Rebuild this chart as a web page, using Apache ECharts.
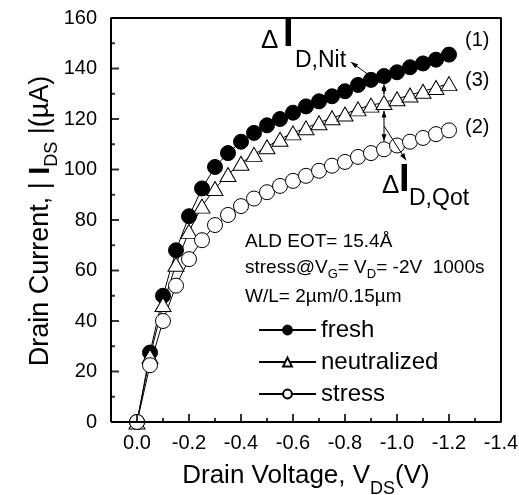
<!DOCTYPE html>
<html>
<head>
<meta charset="utf-8">
<script src="https://cdn.jsdelivr.net/npm/echarts@6/dist/echarts.min.js"></script>
<style>
html, body { margin: 0; padding: 0; background: #fff; }
#chart { width: 519px; height: 495px; }
</style>
</head>
<body>
<div id="chart"></div>
<script>
// Drain voltage (V), one point every -0.05 V
var volts = [0, -0.05, -0.1, -0.15, -0.2, -0.25, -0.3, -0.35, -0.4, -0.45, -0.5, -0.55, -0.6,
             -0.65, -0.7, -0.75, -0.8, -0.85, -0.9, -0.95, -1.0, -1.05, -1.1, -1.15, -1.2];

// |I_DS| (uA)
var fresh = [0, 27.5, 50, 68, 81.5, 92.5, 101, 106.5, 111, 114.5, 117.5, 120, 122.5,
             125, 127, 129, 131, 133.5, 135.5, 137, 138.5, 140.5, 142, 143.5, 145.5];
var neutralized = [0, 26, 46.5, 62.5, 75.5, 85.5, 92.5, 98, 102.5, 106, 109, 112, 114.5,
                   116.5, 118.5, 120.5, 122, 124, 125.5, 126.5, 128, 129.5, 131, 132.5, 134];
var stress = [0, 22.5, 40, 54, 64.5, 72, 78, 82, 85.5, 88.5, 91, 93.5, 95.5,
              97.5, 99.5, 101.5, 103, 105, 106.5, 108, 109.5, 111, 112.5, 114, 115.5];

// inner ticks (labels come from the axes, every 0.2 V / 20 uA)
var xTickValues = [0, -0.1, -0.2, -0.3, -0.4, -0.5, -0.6, -0.7, -0.8, -0.9, -1.0, -1.1, -1.2, -1.3];
var yTickValues = [10, 20, 30, 40, 50, 60, 70, 80, 90, 100, 110, 120, 130, 140, 150];

// plot window
var xRange = [-1.4, 0.1];
var yRange = [0, 160];

var seriesNames = ['fresh', 'neutralized', 'stress'];
var curveLabels = ['(1)', '(3)', '(2)'];
var infoLines = ['ALD EOT= 15.4Å', 'stress@V{s|G}= V{s|D}= -2V  1000s', 'W/L= 2µm/0.15µm'];

var FONT = "'Liberation Sans', Arial, Helvetica, sans-serif";

var chartDom = document.getElementById('chart');
var chart = echarts.init(chartDom);

function pairs(ys) {
    return volts.map(function (v, i) { return [v, ys[i]]; });
}

// frame drawn as a closed line through the corners of the axis window
var frameData = [[xRange[1], yRange[0]], [xRange[1], yRange[1]], [xRange[0], yRange[1]],
                 [xRange[0], yRange[0]], [xRange[1], yRange[0]]];

// inward ticks as thin rect symbols: long at labelled values, short in between
var tickData = [];
xTickValues.forEach(function (v) {
    var len = Math.round(v * 10) % 2 === 0 ? 8 : 4;
    tickData.push({ value: [v, yRange[0]], symbolSize: [2, len], symbolOffset: [0, -len / 2] });
});
yTickValues.forEach(function (v) {
    var len = v % 20 === 0 ? 8 : 4;
    tickData.push({ value: [xRange[1], v], symbolSize: [len, 2], symbolOffset: [len / 2, 0] });
});

var option = {
    animation: false,
    textStyle: { fontFamily: FONT, color: '#000' },
    grid: { left: 111, right: 18, top: 18, bottom: 73, outerBoundsMode: 'none' },
    legend: {
        orient: 'vertical',
        left: 253, top: 313,
        itemWidth: 57, itemHeight: 11, itemGap: 8,
        textStyle: { fontSize: 24, color: '#000', fontFamily: FONT },
        data: seriesNames
    },
    xAxis: {
        type: 'value',
        min: xRange[0], max: xRange[1], interval: 0.2, inverse: true,
        axisLine: { show: false, onZero: false },
        axisTick: { show: false },
        splitLine: { show: false },
        axisLabel: {
            fontSize: 20, color: '#000', margin: 11, fontFamily: FONT,
            formatter: function (v) {
                if (v > 0.05) return '';
                if (Math.abs(v) < 1e-9) return '0.0';
                return v.toFixed(1);
            }
        },
        name: 'Drain Voltage, V{s|DS}(V)',
        nameLocation: 'middle', nameGap: 32,
        nameTextStyle: {
            fontSize: 26, color: '#000', fontFamily: FONT,
            rich: { s: { fontSize: 18, padding: [26, 0, 0, 0], fontFamily: FONT } }
        }
    },
    yAxis: {
        type: 'value', min: yRange[0], max: yRange[1], interval: 20,
        axisLine: { show: false, onZero: false },
        axisTick: { show: false },
        splitLine: { show: false },
        axisLabel: { fontSize: 20, color: '#000', margin: 14, fontFamily: FONT }
    },
    series: [{
        name: seriesNames[0], type: 'line',
        data: pairs(fresh),
        symbol: 'circle', symbolSize: 15,
        itemStyle: { color: '#000', borderColor: '#000', borderWidth: 1 },
        lineStyle: { color: '#000', width: 1 }
    }, {
        name: seriesNames[1], type: 'line',
        data: pairs(neutralized),
        symbol: 'triangle', symbolSize: [16, 14],
        itemStyle: { color: '#fff', borderColor: '#000', borderWidth: 1 },
        lineStyle: { color: '#000', width: 1 }
    }, {
        name: seriesNames[2], type: 'line',
        data: pairs(stress),
        symbol: 'circle', symbolSize: 15,
        itemStyle: { color: '#fff', borderColor: '#000', borderWidth: 1 },
        lineStyle: { color: '#000', width: 1 }
    }, {
        name: 'frame', type: 'line', data: frameData,
        symbol: 'none', clip: false, silent: true, z: 5,
        lineStyle: { color: '#000', width: 2 }
    }, {
        name: 'ticks', type: 'scatter', data: tickData,
        symbol: 'rect', clip: false, silent: true, z: 5,
        itemStyle: { color: '#000' }
    }]
};

chart.setOption(option);

// annotations -----------------------------------------------------------

function px(v, y) {
    return chart.convertToPixel({ xAxisIndex: 0, yAxisIndex: 0 }, [v, y]);
}

function txt(x, y, text, size, extra) {
    var style = {
        text: text, x: x, y: y,
        fontSize: size, fontFamily: FONT, fill: '#000',
        textAlign: 'left', align: 'left',
        textVerticalAlign: 'middle', verticalAlign: 'middle'
    };
    for (var k in extra) style[k] = extra[k];
    return { type: 'text', silent: true, style: style };
}

function seg(x1, y1, x2, y2) {
    return { type: 'line', silent: true, z: 10,
             shape: { x1: x1, y1: y1, x2: x2, y2: y2 },
             style: { stroke: '#000', lineWidth: 1 } };
}

function head(x1, y1, x2, y2, len, wid) {
    var dx = x2 - x1, dy = y2 - y1, d = Math.sqrt(dx * dx + dy * dy);
    var ux = dx / d, uy = dy / d;
    var bx = x2 - ux * len, by = y2 - uy * len;
    return { type: 'polygon', silent: true, z: 10,
             shape: { points: [[x2, y2], [bx - uy * wid, by + ux * wid], [bx + uy * wid, by - ux * wid]] },
             style: { fill: '#000' } };
}

function arrow(x1, y1, x2, y2, both) {
    var out = [seg(x1, y1, x2, y2), head(x1, y1, x2, y2, 7, 2.5)];
    if (both) out.push(head(x2, y2, x1, y1, 7, 2.5));
    return out;
}

var g = [];

// y title
g.push({ type: 'text', silent: true, x: 41, y: 221, rotation: Math.PI / 2,
         style: { text: 'Drain Current, | {b|I}{s|DS} |(µA)', fontSize: 27, fontFamily: FONT, fill: '#000',
                  textAlign: 'center', align: 'center', textVerticalAlign: 'middle', verticalAlign: 'middle',
                  rich: {
                      b: { fontSize: 29, fontWeight: 'bold', fontFamily: FONT },
                      s: { fontSize: 18, padding: [22, 0, 0, 0], fontFamily: FONT }
                  } } });

var k = volts.indexOf(-0.95);
var pF = px(volts[k], fresh[k]);
var pN = px(volts[k], neutralized[k]);
var pS = px(volts[k], stress[k]);

// delta I_D,Nit
g = g.concat(arrow(pF[0], pF[1] + 8, pN[0], pN[1] - 8, true));
g = g.concat(arrow(pF[0] - 4, pF[1] + 7, pF[0] - 33, pF[1] - 14, false));
// delta I_D,Qot
g = g.concat(arrow(pN[0], pN[1] + 8, pS[0], pS[1] - 8, true));
g = g.concat(arrow(pN[0], (pN[1] + pS[1]) / 2, pN[0] + 22, pS[1] + 11, false));

g.push(txt(261, 41, 'Δ', 26));
g.push(txt(283, 36, 'I', 38, { fontWeight: 'bold' }));
g.push(txt(295, 61, 'D,Nit', 23));

g.push(txt(382, 186, 'Δ', 26));
g.push(txt(399, 181, 'I', 38, { fontWeight: 'bold' }));
g.push(txt(409, 199, 'D,Qot', 23));

// curve numbers at the right end
var curveLabelY = [40, 80, 127];
curveLabels.forEach(function (lab, i) {
    g.push(txt(465, curveLabelY[i], lab, 20));
});

// device info block
var infoY = [242, 268, 297];
infoLines.forEach(function (line, i) {
    g.push(txt(245, infoY[i], line, 19, {
        rich: { s: { fontSize: 13, fontFamily: FONT, padding: [12, 0, 0, 0] } }
    }));
});

chart.setOption({ graphic: { elements: g } });
</script>
</body>
</html>
